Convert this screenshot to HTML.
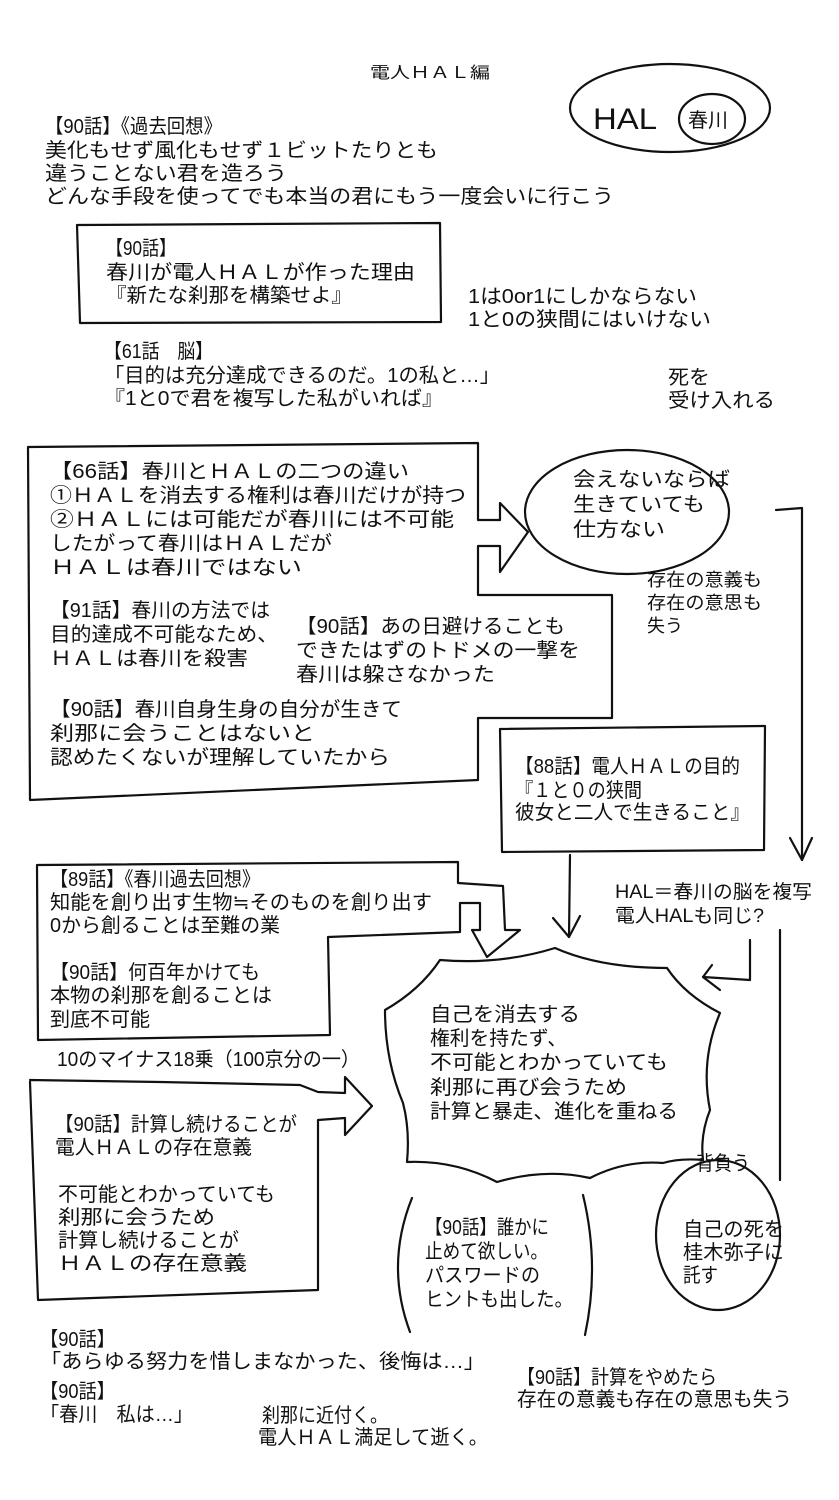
<!DOCTYPE html>
<html><head><meta charset="utf-8"><style>
html,body{margin:0;padding:0;background:#fff}
svg{display:block}
text{font-family:"Liberation Sans","Noto Sans CJK JP",sans-serif;font-size:20px;fill:#111}
.s{stroke:#111;stroke-width:2.2;fill:none;stroke-linejoin:round;stroke-linecap:round}
</style></head><body>
<svg width="839" height="1500" viewBox="0 0 839 1500" xmlns="http://www.w3.org/2000/svg">
<rect width="839" height="1500" fill="#fff"/>
<text x="370" y="78" style="font-size:16px" textLength="120" lengthAdjust="spacingAndGlyphs">電人ＨＡＬ編</text>
<ellipse class="s" cx="670" cy="108" rx="100" ry="44"/>
<text x="593" y="129" style="font-size:30px" textLength="64" lengthAdjust="spacingAndGlyphs">HAL</text>
<ellipse class="s" cx="712" cy="119" rx="33" ry="25"/>
<text x="688" y="127" style="font-size:20px">春川</text>

<text x="45" y="133" textLength="177" lengthAdjust="spacingAndGlyphs">【90話】《過去回想》</text>
<text x="45" y="157" textLength="393" lengthAdjust="spacingAndGlyphs">美化もせず風化もせず１ビットたりとも</text>
<text x="45" y="180" textLength="242" lengthAdjust="spacingAndGlyphs">違うことない君を造ろう</text>
<text x="45" y="203" textLength="569" lengthAdjust="spacingAndGlyphs">どんな手段を使ってでも本当の君にもう一度会いに行こう</text>

<polyline class="s" points="77,225 440,223 441,322 80,323 77,225"/>
<text x="106" y="255" textLength="70" lengthAdjust="spacingAndGlyphs">【90話】</text>
<text x="106" y="279" textLength="309" lengthAdjust="spacingAndGlyphs">春川が電人ＨＡＬが作った理由</text>
<text x="106" y="302" textLength="246" lengthAdjust="spacingAndGlyphs">『新たな刹那を構築せよ』</text>
<text x="468" y="303" textLength="229" lengthAdjust="spacingAndGlyphs">1は0or1にしかならない</text>
<text x="468" y="326" textLength="243" lengthAdjust="spacingAndGlyphs">1と0の狭間にはいけない</text>
<text x="104" y="358" textLength="109" lengthAdjust="spacingAndGlyphs">【61話　脳】</text>
<text x="104" y="382" textLength="396" lengthAdjust="spacingAndGlyphs">「目的は充分達成できるのだ。1の私と…」</text>
<text x="104" y="405" textLength="339" lengthAdjust="spacingAndGlyphs">『1と0で君を複写した私がいれば』</text>
<text x="668" y="384" textLength="42" lengthAdjust="spacingAndGlyphs">死を</text>
<text x="668" y="407" textLength="107" lengthAdjust="spacingAndGlyphs">受け入れる</text>

<polyline class="s" points="28,447 478,443 478,520 500,520 500,503 528,532 500,572 500,546 478,546 478,595 612,595 612,718 478,718 478,780 30,800 28,447"/>
<text x="50" y="478" textLength="359" lengthAdjust="spacingAndGlyphs">【66話】春川とＨＡＬの二つの違い</text>
<text x="50" y="502" textLength="416" lengthAdjust="spacingAndGlyphs">①ＨＡＬを消去する権利は春川だけが持つ</text>
<text x="50" y="526" textLength="404" lengthAdjust="spacingAndGlyphs">②ＨＡＬには可能だが春川には不可能</text>
<text x="50" y="550" textLength="282" lengthAdjust="spacingAndGlyphs">したがって春川はＨＡＬだが</text>
<text x="50" y="574" textLength="252" lengthAdjust="spacingAndGlyphs">ＨＡＬは春川ではない</text>
<text x="50" y="617" textLength="220" lengthAdjust="spacingAndGlyphs">【91話】春川の方法では</text>
<text x="50" y="641" textLength="228" lengthAdjust="spacingAndGlyphs">目的達成不可能なため、</text>
<text x="50" y="665" textLength="198" lengthAdjust="spacingAndGlyphs">ＨＡＬは春川を殺害</text>
<text x="296" y="633" textLength="269" lengthAdjust="spacingAndGlyphs">【90話】あの日避けることも</text>
<text x="296" y="657" textLength="284" lengthAdjust="spacingAndGlyphs">できたはずのトドメの一撃を</text>
<text x="296" y="681" textLength="199" lengthAdjust="spacingAndGlyphs">春川は躱さなかった</text>
<text x="50" y="716" textLength="352" lengthAdjust="spacingAndGlyphs">【90話】春川自身生身の自分が生きて</text>
<text x="50" y="740" textLength="265" lengthAdjust="spacingAndGlyphs">刹那に会うことはないと</text>
<text x="50" y="764" textLength="340" lengthAdjust="spacingAndGlyphs">認めたくないが理解していたから</text>

<ellipse class="s" cx="627" cy="512" rx="102" ry="62"/>
<text x="573" y="486" textLength="157" lengthAdjust="spacingAndGlyphs">会えないならば</text>
<text x="573" y="511" textLength="132" lengthAdjust="spacingAndGlyphs">生きていても</text>
<text x="573" y="536" textLength="92" lengthAdjust="spacingAndGlyphs">仕方ない</text>
<polyline class="s" points="776,510 802,508 802,860"/>
<polyline class="s" points="790,838 802,860 812,838"/>
<text x="647" y="586" style="font-size:18px" textLength="115" lengthAdjust="spacingAndGlyphs">存在の意義も</text>
<text x="647" y="609" style="font-size:18px" textLength="115" lengthAdjust="spacingAndGlyphs">存在の意思も</text>
<text x="647" y="632" style="font-size:18px" textLength="36" lengthAdjust="spacingAndGlyphs">失う</text>

<polyline class="s" points="500,729 765,726 764,850 502,852 500,729"/>
<text x="515" y="773" textLength="225" lengthAdjust="spacingAndGlyphs">【88話】電人ＨＡＬの目的</text>
<text x="515" y="797" textLength="127" lengthAdjust="spacingAndGlyphs">『１と０の狭間</text>
<text x="515" y="819" textLength="235" lengthAdjust="spacingAndGlyphs">彼女と二人で生きること』</text>
<polyline class="s" points="570,855 569,937"/>
<polyline class="s" points="553,918 569,937 580,916"/>
<text x="615" y="898" style="font-size:19px" textLength="197" lengthAdjust="spacingAndGlyphs">HAL＝春川の脳を複写</text>
<text x="615" y="922" style="font-size:19px" textLength="149" lengthAdjust="spacingAndGlyphs">電人HALも同じ?</text>
<polyline class="s" points="750,940 750,980 703,977"/>
<polyline class="s" points="712,965 703,977 720,990"/>
<polyline class="s" points="780,930 780,1180"/>

<polyline class="s" points="37,865 458,862 458,883 503,886 505,930 520,930 487,957 472,930 480,930 480,903 460,903 460,932 328,937 330,1035 38,1040 37,865"/>
<text x="50" y="886" textLength="210" lengthAdjust="spacingAndGlyphs">【89話】《春川過去回想》</text>
<text x="50" y="909" textLength="382" lengthAdjust="spacingAndGlyphs">知能を創り出す生物≒そのものを創り出す</text>
<text x="50" y="932" textLength="230" lengthAdjust="spacingAndGlyphs">0から創ることは至難の業</text>
<text x="50" y="979" textLength="210" lengthAdjust="spacingAndGlyphs">【90話】何百年かけても</text>
<text x="50" y="1002" textLength="222" lengthAdjust="spacingAndGlyphs">本物の刹那を創ることは</text>
<text x="50" y="1026" textLength="100" lengthAdjust="spacingAndGlyphs">到底不可能</text>
<text x="57" y="1066" textLength="303" lengthAdjust="spacingAndGlyphs">10のマイナス18乗（100京分の一）</text>

<polyline class="s" points="30,1080 160,1082 300,1085 318,1092 345,1093 345,1077 372,1106 345,1135 345,1118 318,1120 318,1290 38,1300 30,1082"/>
<text x="55" y="1131" textLength="242" lengthAdjust="spacingAndGlyphs">【90話】計算し続けることが</text>
<text x="55" y="1154" textLength="197" lengthAdjust="spacingAndGlyphs">電人ＨＡＬの存在意義</text>
<text x="58" y="1201" textLength="217" lengthAdjust="spacingAndGlyphs">不可能とわかっていても</text>
<text x="58" y="1224" textLength="157" lengthAdjust="spacingAndGlyphs">刹那に会うため</text>
<text x="58" y="1247" textLength="181" lengthAdjust="spacingAndGlyphs">計算し続けることが</text>
<text x="58" y="1270" textLength="189" lengthAdjust="spacingAndGlyphs">ＨＡＬの存在意義</text>

<path class="s" d="M440,960 Q500,965 555,948 Q600,968 667,968 Q685,995 720,1013 Q700,1060 710,1110 Q700,1135 703,1160 Q680,1158 663,1163 Q625,1160 590,1178 Q545,1168 497,1182 Q455,1160 407,1162 Q410,1130 403,1103 Q385,1060 385,1010 Q420,990 440,960 Z"/>
<text x="430" y="1021" textLength="150" lengthAdjust="spacingAndGlyphs">自己を消去する</text>
<text x="430" y="1045" textLength="137" lengthAdjust="spacingAndGlyphs">権利を持たず、</text>
<text x="430" y="1069" textLength="238" lengthAdjust="spacingAndGlyphs">不可能とわかっていても</text>
<text x="430" y="1094" textLength="197" lengthAdjust="spacingAndGlyphs">刹那に再び会うため</text>
<text x="430" y="1118" textLength="248" lengthAdjust="spacingAndGlyphs">計算と暴走、進化を重ねる</text>
<text x="696" y="1170" textLength="54" lengthAdjust="spacingAndGlyphs">背負う</text>

<path class="s" d="M412,1198 Q385,1265 410,1332"/>
<path class="s" d="M583,1195 Q600,1265 585,1335"/>
<text x="425" y="1234" textLength="124" lengthAdjust="spacingAndGlyphs">【90話】誰かに</text>
<text x="425" y="1258" textLength="123" lengthAdjust="spacingAndGlyphs">止めて欲しい。</text>
<text x="425" y="1282" textLength="115" lengthAdjust="spacingAndGlyphs">パスワードの</text>
<text x="425" y="1306" textLength="148" lengthAdjust="spacingAndGlyphs">ヒントも出した。</text>
<ellipse class="s" cx="718" cy="1235" rx="62" ry="75"/>
<text x="683" y="1236" textLength="101" lengthAdjust="spacingAndGlyphs">自己の死を</text>
<text x="683" y="1259" textLength="101" lengthAdjust="spacingAndGlyphs">桂木弥子に</text>
<text x="683" y="1282" textLength="35" lengthAdjust="spacingAndGlyphs">託す</text>

<text x="40" y="1346" textLength="75" lengthAdjust="spacingAndGlyphs">【90話】</text>
<text x="40" y="1368" textLength="445" lengthAdjust="spacingAndGlyphs">「あらゆる努力を惜しまなかった、後悔は…」</text>
<text x="40" y="1398" textLength="75" lengthAdjust="spacingAndGlyphs">【90話】</text>
<text x="40" y="1421" textLength="153" lengthAdjust="spacingAndGlyphs">「春川　私は…」</text>
<text x="262" y="1422" textLength="126" lengthAdjust="spacingAndGlyphs">刹那に近付く。</text>
<text x="258" y="1444" textLength="230" lengthAdjust="spacingAndGlyphs">電人ＨＡＬ満足して逝く。</text>
<text x="517" y="1384" textLength="200" lengthAdjust="spacingAndGlyphs">【90話】計算をやめたら</text>
<text x="517" y="1406" textLength="275" lengthAdjust="spacingAndGlyphs">存在の意義も存在の意思も失う</text>
</svg>
</body></html>
